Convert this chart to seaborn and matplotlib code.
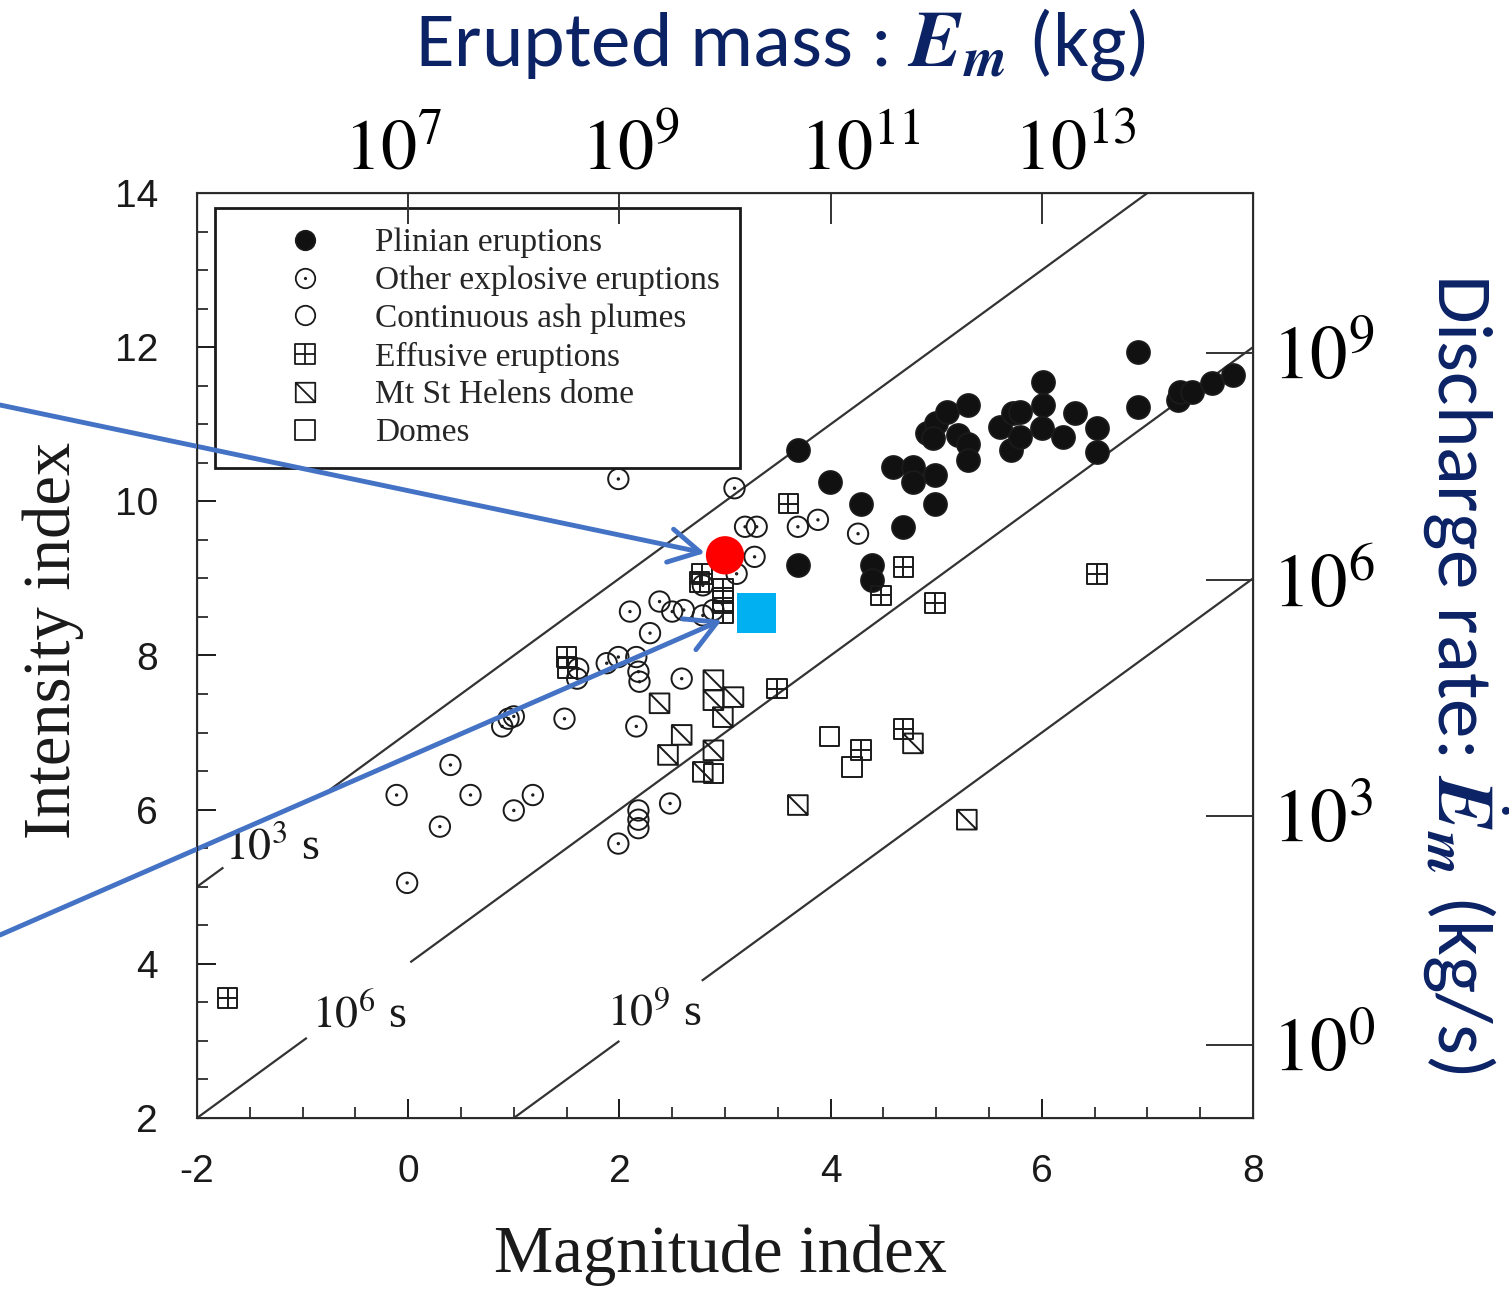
import numpy as np
import pandas as pd
import matplotlib
matplotlib.use("Agg")
import matplotlib.pyplot as plt
import seaborn as sns
from matplotlib.path import Path
from matplotlib.lines import Line2D

# ---------------- data (magnitude index, intensity index) ----------------
plinian_m = [3.69, 3.99, 4.29, 4.69, 3.69, 4.39, 4.39, 4.59, 4.78, 4.78, 4.99, 4.99,
             4.91, 5.00, 5.10, 4.97, 5.30, 5.21, 5.30, 5.30, 5.60, 5.73, 5.71, 5.79,
             5.79, 6.01, 6.01, 6.00, 6.20, 6.31, 6.52, 6.52, 6.91, 6.91, 7.29, 7.31,
             7.42, 7.61, 7.81]
plinian_i = [10.66, 10.25, 9.97, 9.67, 9.17, 9.17, 8.98, 10.45, 10.45, 10.25, 10.34, 9.97,
             10.88, 11.01, 11.16, 10.82, 11.25, 10.86, 10.75, 10.53, 10.97, 11.14, 10.66, 10.84,
             11.16, 11.55, 11.25, 10.95, 10.84, 11.14, 10.95, 10.64, 11.94, 11.23, 11.31, 11.42,
             11.42, 11.53, 11.64]

explosive_m = [1.99, 3.09, 3.19, 3.30, 3.69, 3.88, 4.26, 3.28, 3.11, 2.79, 2.10, 2.38,
               2.50, 2.61, 2.79, 2.89, 2.29, 1.88, 1.99, 2.16, 2.18, 2.19, 1.61, 1.60,
               2.59, 1.48, 0.95, 1.00, 0.89, 2.16, 0.40, -0.11, 0.59, 1.18, 1.00, 0.30,
               -0.01, 2.48, 1.99]
explosive_i = [10.29, 10.17, 9.67, 9.67, 9.67, 9.76, 9.58, 9.28, 9.06, 8.91, 8.57, 8.70,
               8.57, 8.59, 8.52, 8.59, 8.29, 7.90, 7.98, 7.98, 7.79, 7.66, 7.83, 7.70,
               7.70, 7.18, 7.18, 7.21, 7.08, 7.08, 6.58, 6.19, 6.19, 6.19, 5.99, 5.78,
               5.05, 6.08, 5.56]

ash_m = [2.18, 2.18, 2.18]
ash_i = [5.99, 5.87, 5.76]

effusive_m = [3.60, 2.78, 2.76, 2.98, 2.98, 2.98, 1.50, 1.51, 3.49, 4.69, 4.48, 4.99,
              6.52, 4.29, 4.69, -1.71]
effusive_i = [9.97, 9.06, 8.95, 8.87, 8.71, 8.55, 7.98, 7.84, 7.57, 9.15, 8.78, 8.68,
              9.06, 6.77, 7.05, 3.56]

helens_m = [2.89, 2.89, 3.08, 2.98, 2.38, 2.59, 2.46, 2.89, 2.79, 3.69, 4.78, 5.29]
helens_i = [7.68, 7.42, 7.46, 7.20, 7.38, 6.97, 6.71, 6.77, 6.49, 6.06, 6.86, 5.87]

domes_m = [3.99, 4.20, 2.89]
domes_i = [6.95, 6.55, 6.47]

# highlighted events
red_m, red_i = [3.00], [9.30]
blue_m, blue_i = [3.30], [8.55]

# constant-duration lines: log10(duration in s) and drawn (start, end) magnitude ranges
duration_exp = [3, 6, 9]
duration_segments = [[(-2.0, -1.75), (-0.80, 7.0)],
                     [(-2.0, -0.96), (0.02, 8.0)],
                     [(1.0, 2.0), (2.78, 8.0)]]
duration_labels = [r"$10^3$ s", r"$10^6$ s", r"$10^9$ s"]
duration_label_pos = [(-1.29, 5.50), (-0.46, 3.32), (2.33, 3.35)]

categories = ["Plinian eruptions", "Other explosive eruptions", "Continuous ash plumes",
              "Effusive eruptions", "Mt St Helens dome", "Domes"]

top_tick_pos = [0, 2, 4, 6]
top_label_pos = [-0.14, 2.10, 4.28, 6.32]
top_labels = [r"$10^{7}$", r"$10^{9}$", r"$10^{11}$", r"$10^{13}$"]
right_tick_pos = [11.93, 8.98, 5.92, 2.95]
right_labels = [r"$10^{9}$", r"$10^{6}$", r"$10^{3}$", r"$10^{0}$"]

# ---------------- markers ----------------
def circle_dot():
    return Path.make_compound_path(Path.unit_circle(), Path.circle((0, 0), 0.07))

SQ = [(-1, -1), (1, -1), (1, 1), (-1, 1), (-1, -1)]
SQC = [Path.MOVETO, Path.LINETO, Path.LINETO, Path.LINETO, Path.CLOSEPOLY]

def square_plus():
    return Path(SQ + [(-1, 0), (1, 0), (0, -1), (0, 1)],
                SQC + [Path.MOVETO, Path.LINETO, Path.MOVETO, Path.LINETO])

def square_diag():
    return Path(SQ + [(-1, 1), (1, -1)], SQC + [Path.MOVETO, Path.LINETO])

def square():
    return Path(SQ, SQC)

markers = {
    "Plinian eruptions": (Path.unit_circle(), "#111111"),
    "Other explosive eruptions": (circle_dot(), "none"),
    "Continuous ash plumes": (Path.unit_circle(), "none"),
    "Effusive eruptions": (square_plus(), "none"),
    "Mt St Helens dome": (square_diag(), "none"),
    "Domes": (square(), "none"),
}
sizes = {"Plinian eruptions": 270, "Other explosive eruptions": 215,
         "Continuous ash plumes": 215, "Effusive eruptions": 200,
         "Mt St Helens dome": 200, "Domes": 200}

frames = []
for cat, mm, ii in zip(categories,
                       [plinian_m, explosive_m, ash_m, effusive_m, helens_m, domes_m],
                       [plinian_i, explosive_i, ash_i, effusive_i, helens_i, domes_i]):
    frames.append(pd.DataFrame({"M": mm, "I": ii, "type": cat}))
df = pd.concat(frames, ignore_index=True)

# ---------------- style ----------------
sns.set_style("ticks")
plt.rcParams["font.family"] = ["Liberation Sans", "DejaVu Sans"]
plt.rcParams["mathtext.fontset"] = "stix"
plt.rcParams["axes.unicode_minus"] = False

NAVY = "#0B2265"
INK = "#1a1a1a"

fig = plt.figure(figsize=(15.09, 12.89), dpi=100)
W, H = 1509, 1289
ax = fig.add_axes([197 / W, 1 - 1118 / H, (1253 - 197) / W, (1118 - 193) / H])
ax.set_xlim(-2, 8)
ax.set_ylim(2, 14)

# duration lines
for e, segs in zip(duration_exp, duration_segments):
    for a, b in segs:
        mx = np.array([a, b])
        ax.plot(mx, mx + 10 - e, color="#333333", lw=1.6, zorder=1, solid_capstyle="butt")
for lab, (x, y) in zip(duration_labels, duration_label_pos):
    ax.text(x, y, lab, fontsize=33, family="Liberation Serif", ha="center", va="center",
            color=INK)

# scatter points
for cat in categories:
    sub = df[df["type"] == cat]
    path, fc = markers[cat]
    sns.scatterplot(data=sub, x="M", y="I", marker=path, s=sizes[cat], color=INK,
                    facecolor=fc, edgecolor=INK, linewidth=1.4, ax=ax, zorder=3)

# highlighted events
sns.scatterplot(x=red_m, y=red_i, marker="o", s=760, color="#FF0000",
                edgecolor="none", linewidth=0, ax=ax, zorder=6)
sns.scatterplot(x=blue_m, y=blue_i, marker="s", s=800, color="#00B0F0",
                edgecolor="none", linewidth=0, ax=ax, zorder=6)

# arrows from slide edge
arrow_kw = dict(arrowstyle="->,head_length=1.0,head_width=0.55", color="#4472C4", lw=3.5,
                shrinkA=0, shrinkB=0, mutation_scale=22)
ax.annotate("", xy=(2.81, 9.33), xycoords="data", xytext=(0.0, 1 - 405 / H),
            textcoords="figure fraction", arrowprops=arrow_kw, annotation_clip=False,
            zorder=5)
ax.annotate("", xy=(2.97, 8.46), xycoords="data", xytext=(0.0, 1 - 935 / H),
            textcoords="figure fraction", arrowprops=arrow_kw, annotation_clip=False,
            zorder=5)

# axes styling
ax.set_xticks(np.arange(-2, 9, 2))
ax.set_yticks(np.arange(2, 15, 2))
ax.set_xticks(np.arange(-2, 8.01, 0.5), minor=True)
ax.set_yticks(np.arange(2, 14.01, 0.5), minor=True)
ax.tick_params(axis="both", which="major", direction="in", length=14, width=1.4,
               labelsize=28, colors=INK, top=False, right=False)
ax.tick_params(axis="both", which="minor", direction="in", length=8, width=1.2,
               top=False, right=False, colors=INK)
ax.tick_params(axis="x", pad=26)
ax.tick_params(axis="y", pad=28)
for sp in ax.spines.values():
    sp.set_visible(True)
    sp.set_linewidth(1.5)
    sp.set_color("#333333")

ax.set_xlabel("Magnitude index", fontsize=48, family="Liberation Serif", color=INK)
ax.set_ylabel("Intensity index", fontsize=48, family="Liberation Serif", color=INK)
ax.xaxis.set_label_coords((720 - 197) / 1056, -0.115)
ax.yaxis.set_label_coords((84 - 197) / 1056, (1118 - 640) / 925)

# legend
handles = []
for cat in categories:
    path, fc = markers[cat]
    handles.append(Line2D([], [], linestyle="none", marker=path, markersize=14,
                          markerfacecolor=fc, markeredgecolor=INK, markeredgewidth=1.3))
leg = ax.legend(handles, categories, loc="upper left",
                bbox_to_anchor=((215 - 197) / 1056, 1 - (208 - 193) / 925),
                borderaxespad=0, fancybox=False, framealpha=1, edgecolor=INK,
                prop={"family": "Liberation Serif", "size": 24},
                handlelength=4.2, handletextpad=0.0, labelspacing=0.22, borderpad=0.6)
leg.get_frame().set_linewidth(2.0)
leg.set_zorder(4)

# top axis: erupted mass
axt = ax.twiny()
axt.set_xlim(ax.get_xlim())
axt.set_xticks(top_label_pos)
axt.set_xticklabels(top_labels)
axt.set_xticks(top_tick_pos, minor=True)
axt.tick_params(axis="x", which="major", length=0, labelsize=52, pad=6, colors="black")
axt.tick_params(axis="x", which="minor", direction="in", length=22, width=1.4,
                colors="#333333")

# right axis: discharge rate
axr = ax.twinx()
axr.set_ylim(ax.get_ylim())
axr.set_yticks(right_tick_pos)
axr.set_yticklabels(right_labels)
axr.yaxis.set_minor_locator(matplotlib.ticker.NullLocator())
axr.tick_params(axis="y", which="major", direction="in", length=34, width=1.4,
                labelsize=54, pad=14, colors="black")
axr.tick_params(axis="y", which="major", color="#333333")

# slide titles
fig.text(780 / W, 1 - 45 / H, r"Erupted mass : $\mathbfit{E}_{\mathbfit{m}}$ (kg)",
         fontsize=57, color=NAVY, ha="center", va="center",
         family=["Carlito", "Lato", "DejaVu Sans"])
fig.text(1465 / W, 1 - 673 / H,
         r"Discharge rate: $\dot{\mathbfit{E}}_{\mathbfit{m}}$ (kg/s)",
         fontsize=57, color=NAVY, ha="center", va="center", rotation=270,
         family=["Liberation Sans Narrow", "Carlito", "Lato", "DejaVu Sans"])

fig.savefig("out.png", dpi=100)
